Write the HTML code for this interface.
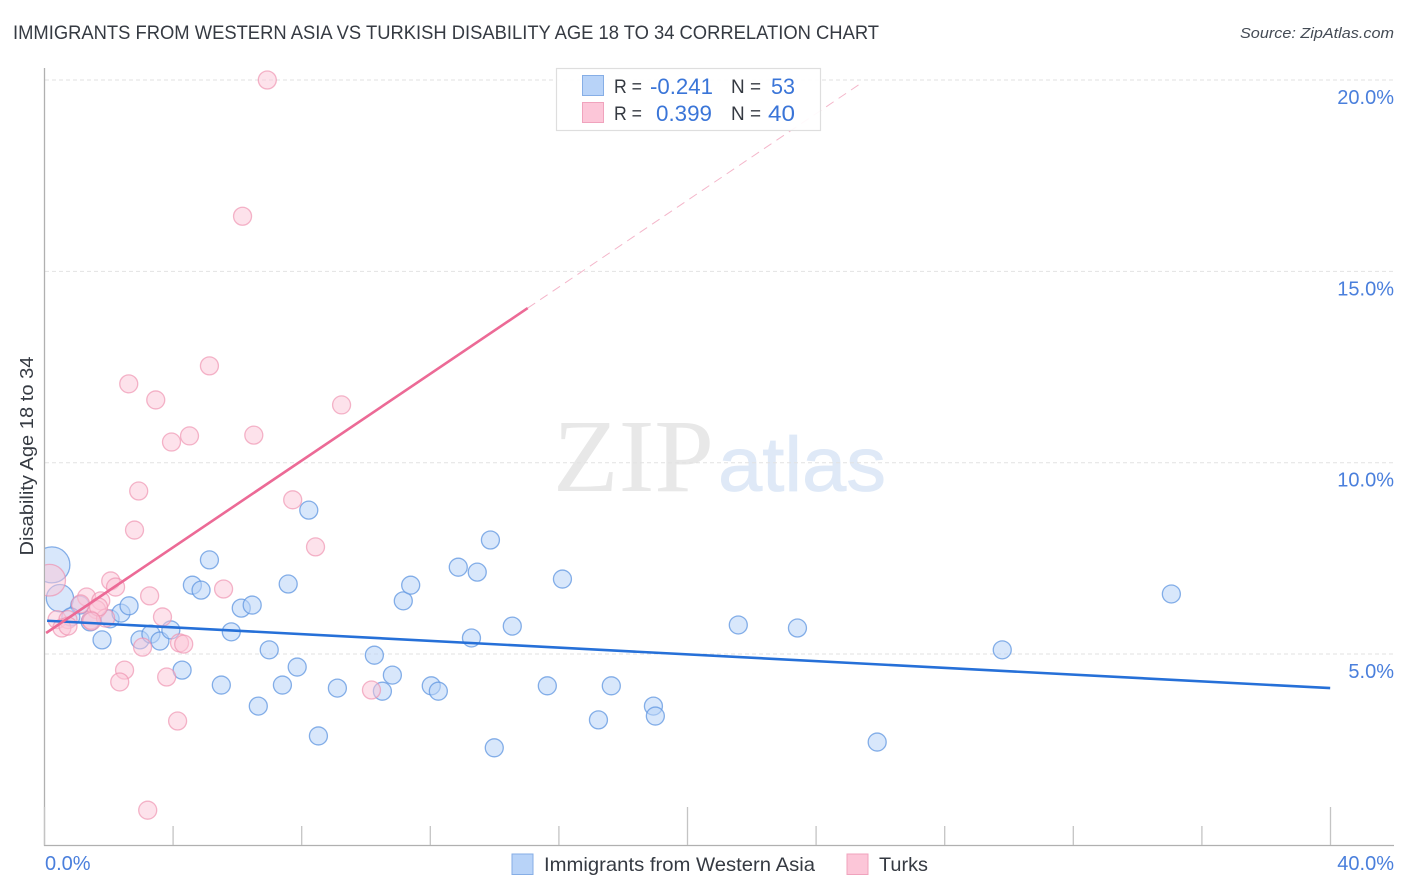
<!DOCTYPE html>
<html lang="en">
<head>
<meta charset="utf-8">
<title>Immigrants from Western Asia vs Turkish Disability Age 18 to 34 Correlation Chart</title>
<style>
html,body{margin:0;padding:0;background:#fff;width:1406px;height:892px;overflow:hidden}
svg{display:block;font-family:"Liberation Sans",sans-serif}
</style>
</head>
<body>
<svg id="chart" xmlns="http://www.w3.org/2000/svg" width="1406" height="892" viewBox="0 0 1406 892">
  <defs><clipPath id="plot-clip"><rect x="45" y="60" width="1349" height="785"/></clipPath></defs>
  <text x="13" y="39" font-size="19.5" fill="#353a42" textLength="866" lengthAdjust="spacingAndGlyphs">IMMIGRANTS FROM WESTERN ASIA VS TURKISH DISABILITY AGE 18 TO 34 CORRELATION CHART</text>
  <text x="1394" y="38" font-size="15" font-style="italic" fill="#444b55" text-anchor="end" textLength="154" lengthAdjust="spacingAndGlyphs">Source: ZipAtlas.com</text>
  <text x="553" y="491" font-family="'Liberation Serif',serif" font-size="104" fill="#e8e8e8" textLength="161" lengthAdjust="spacingAndGlyphs">ZIP</text>
  <text x="718" y="491" font-size="77" fill="#dfe9f7" stroke="#dfe9f7" stroke-width="0.8" textLength="168" lengthAdjust="spacingAndGlyphs">atlas</text>
  <g id="grid"></g>
  <g id="axes"></g>
  <g id="blue-points" clip-path="url(#plot-clip)"></g>
  <g id="pink-points" clip-path="url(#plot-clip)"></g>
  <g id="trends"></g>
  <text transform="translate(33,456) rotate(-90)" font-size="18.5" fill="#353a42" text-anchor="middle" textLength="199" lengthAdjust="spacingAndGlyphs">Disability Age 18 to 34</text>

  <g>
    <rect x="556.5" y="68.5" width="264" height="62" fill="#fff" fill-opacity="0.92" stroke="#dedede" stroke-width="1.2"/>
    <rect x="582.5" y="75.5" width="21" height="20" fill="#b8d3f8" stroke="#86aee6"/>
    <rect x="582.5" y="102.5" width="21" height="20" fill="#fcc6d8" stroke="#f0a3bd"/>
    <g font-size="19.5" fill="#353a42">
      <text x="614" y="93" textLength="28" lengthAdjust="spacingAndGlyphs">R =</text>
      <text x="731" y="93" textLength="30" lengthAdjust="spacingAndGlyphs">N =</text>
      <text x="614" y="120" textLength="28" lengthAdjust="spacingAndGlyphs">R =</text>
      <text x="731" y="120" textLength="30" lengthAdjust="spacingAndGlyphs">N =</text>
    </g>
    <g font-size="22" fill="#3a75d8">
      <text x="650" y="94" textLength="63" lengthAdjust="spacingAndGlyphs">-0.241</text>
      <text x="771" y="94" textLength="24" lengthAdjust="spacingAndGlyphs">53</text>
      <text x="656" y="121" textLength="56" lengthAdjust="spacingAndGlyphs">0.399</text>
      <text x="768" y="121" textLength="27" lengthAdjust="spacingAndGlyphs">40</text>
    </g>
  </g>

  <g>
    <rect x="512" y="854" width="21" height="20.5" fill="#b8d3f8" stroke="#86aee6"/>
    <text x="544" y="871" font-size="19.5" fill="#353a42" textLength="271" lengthAdjust="spacingAndGlyphs">Immigrants from Western Asia</text>
    <rect x="847" y="854" width="21" height="20.5" fill="#fcc6d8" stroke="#f0a3bd"/>
    <text x="879" y="871" font-size="19.5" fill="#353a42" textLength="49" lengthAdjust="spacingAndGlyphs">Turks</text>
  </g>
</svg>
<script>
// Tick labels
const xTickValues = [0, 4, 8, 12, 16, 20, 24, 28, 32, 36, 40];
const xMajorTicks = [0, 20, 40];
const xLabelValues = [0, 40];
const yGridValues = [5, 10, 15, 20];

// Immigrants from Western Asia: x (%), y (%), bubble weight
const blueX = [0.23,0.48,1.10,0.82,1.42,1.79,2.04,2.38,2.63,2.97,3.31,3.59,3.93,4.28,4.60,4.87,5.13,5.50,5.81,6.12,6.46,6.65,6.99,7.40,7.58,7.86,8.22,8.52,9.11,10.26,10.51,10.82,11.16,11.39,12.03,12.25,12.87,13.28,13.46,13.87,13.99,14.55,15.64,16.11,17.23,17.63,18.94,19.00,21.58,23.42,25.90,29.79,35.05];
const blueY = [7.33,6.46,6.28,5.97,5.84,5.37,5.92,6.07,6.26,5.37,5.52,5.34,5.63,4.58,6.80,6.67,7.46,4.19,5.58,6.20,6.28,3.64,5.11,4.19,6.83,4.66,8.76,2.86,4.11,4.97,4.03,4.45,6.39,6.80,4.17,4.03,7.27,5.42,7.14,7.98,2.55,5.73,4.17,6.96,3.28,4.17,3.64,3.38,5.76,5.68,2.70,5.11,6.57];
const blueWeight = [4.0,2.3,1,1,1,1,1,1,1,1,1,1,1,1,1,1,1,1,1,1,1,1,1,1,1,1,1,1,1,1,1,1,1,1,1,1,1,1,1,1,1,1,1,1,1,1,1,1,1,1,1,1,1];

// Turks: x (%), y (%), bubble weight
const pinkX = [6.93,6.16,5.13,2.62,3.46,9.24,4.51,3.95,6.51,2.93,7.72,2.80,8.43,0.16,2.06,2.21,1.31,1.75,3.27,5.57,3.67,1.62,0.39,0.73,0.54,0.73,1.44,1.90,3.05,4.20,4.33,2.49,2.34,3.80,4.14,3.21,10.17,1.12,1.68,1.47];
const pinkY = [20.00,16.44,12.53,12.06,11.64,11.51,10.70,10.54,10.72,9.26,9.03,8.24,7.80,6.93,6.91,6.75,6.49,6.39,6.52,6.70,5.97,6.16,5.90,5.90,5.68,5.73,5.89,5.94,5.18,5.29,5.26,4.58,4.27,4.40,3.25,0.92,4.06,6.31,6.23,5.86];
const pinkWeight = [1,1,1,1,1,1,1,1,1,1,1,1,1,3.1,1,1,1,1,1,1,1,1,1,1,1,1,1,1,1,1,1,1,1,1,1,1,1,1,1,1];

// Trend line end points (x %, y %)
const blueTrendX = [0.08, 39.99];
const blueTrendY = [5.87, 4.11];
const pinkTrendX = [0.05, 15.03];
const pinkTrendY = [5.55, 14.04];
const pinkExtendX = [15.03, 25.46];
const pinkExtendY = [14.04, 19.95];

const SVG_NS = 'http://www.w3.org/2000/svg';
const xScale = v => 44.5 + v * 32.15;
const yScale = v => 845.4 - v * 38.27;
const rScale = w => 9 * Math.sqrt(w);

function make(tag, parentId, attrs) {
  const el = document.createElementNS(SVG_NS, tag);
  for (const k in attrs) el.setAttribute(k, attrs[k]);
  document.getElementById(parentId).appendChild(el);
  return el;
}

yGridValues.forEach(v => {
  const line = make('line', 'grid', {x1: 45, x2: 1394, y1: yScale(v), y2: yScale(v), stroke: '#e2e2e2', 'stroke-width': 1, 'stroke-dasharray': '4 3'});
  
  
  const label = make('text', 'axes', {x: 1394, y: yScale(v) + 24, 'font-size': 20, fill: '#4a7fdc', 'text-anchor': 'end'});
  label.textContent = v.toFixed(1) + '%';
  
  
});

const yAxis = make('line', 'axes', {x1: 44.5, x2: 44.5, y1: 68, y2: 846, stroke: '#b0b0b0', 'stroke-width': 1.3});


const xAxis = make('line', 'axes', {x1: 44, x2: 1394, y1: 845.5, y2: 845.5, stroke: '#b0b0b0', 'stroke-width': 1.3});



xTickValues.forEach(v => {
  const top = xMajorTicks.includes(v) ? 807 : 826;
  const tick = make('line', 'axes', {x1: xScale(v), x2: xScale(v), y1: top, y2: 845, stroke: '#c4c4c4', 'stroke-width': 1.3});
  
  
});

xLabelValues.forEach((v, i) => {
  const label = make('text', 'axes', {x: i === 0 ? 45 : 1394, y: 870, 'font-size': 20, fill: '#4a7fdc', 'text-anchor': i === 0 ? 'start' : 'end'});
  label.textContent = v.toFixed(1) + '%';
  
  
});

blueX.forEach((v, i) => {
  const c = make('circle', 'blue-points', {cx: xScale(v), cy: yScale(blueY[i]), r: rScale(blueWeight[i]), fill: '#b8d3f8', 'fill-opacity': 0.55, stroke: '#5f95e0', 'stroke-opacity': 0.75, 'stroke-width': 1.3});
  
  
});

pinkX.forEach((v, i) => {
  const c = make('circle', 'pink-points', {cx: xScale(v), cy: yScale(pinkY[i]), r: rScale(pinkWeight[i]), fill: '#fcc6d8', 'fill-opacity': 0.5, stroke: '#ee8fae', 'stroke-opacity': 0.65, 'stroke-width': 1.3});
  
  
});

const blueTrend = make('line', 'trends', {x1: xScale(blueTrendX[0]), y1: yScale(blueTrendY[0]), x2: xScale(blueTrendX[1]), y2: yScale(blueTrendY[1]), stroke: '#2670d8', 'stroke-width': 2.6});


const pinkTrend = make('line', 'trends', {x1: xScale(pinkTrendX[0]), y1: yScale(pinkTrendY[0]), x2: xScale(pinkTrendX[1]), y2: yScale(pinkTrendY[1]), stroke: '#ec6a96', 'stroke-width': 2.6});


const pinkExtend = make('line', 'trends', {x1: xScale(pinkExtendX[0]), y1: yScale(pinkExtendY[0]), x2: xScale(pinkExtendX[1]), y2: yScale(pinkExtendY[1]), stroke: '#f4b6ca', 'stroke-width': 1, 'stroke-dasharray': '9 6'});


</script>
</body>
</html>
